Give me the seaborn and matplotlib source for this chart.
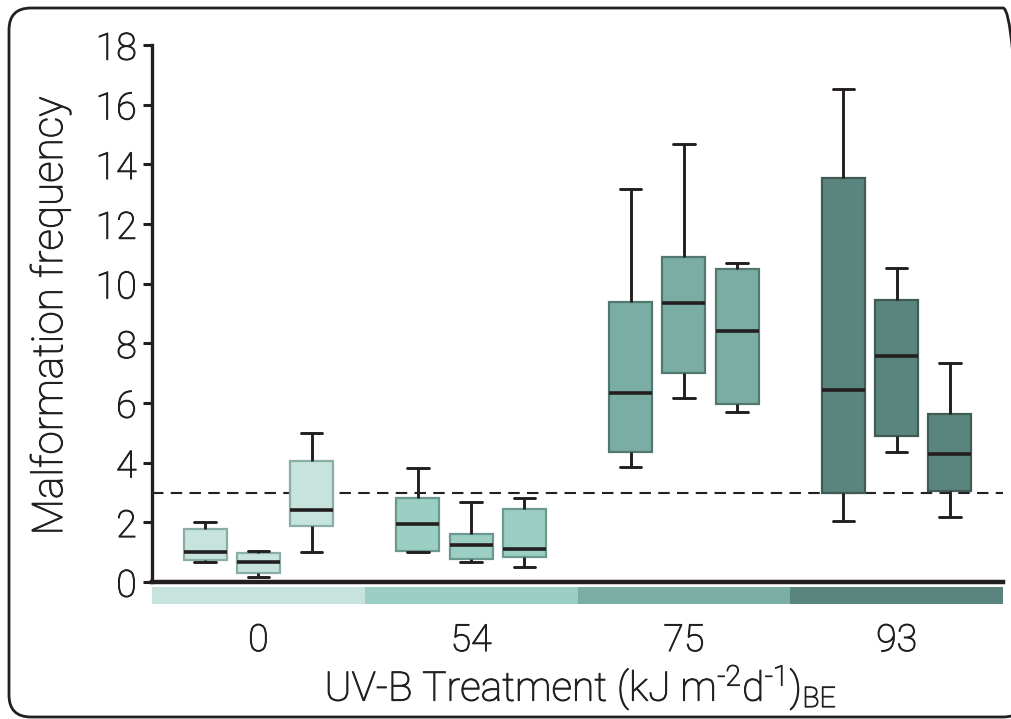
import numpy as np
import pandas as pd
import seaborn as sns
import matplotlib
matplotlib.use("Agg")
import matplotlib.pyplot as plt
import matplotlib.transforms as mtransforms
import matplotlib.patheffects as pe
from matplotlib.patches import FancyBboxPatch, Rectangle

# ---------------- data ----------------
treatments = ["0", "54", "75", "93"]
replicates = ["R1", "R2", "R3"]

# five-number summaries, order: 0-R1, 0-R2, 0-R3, 54-R1, ... 93-R3
whisker_low  = [0.66, 0.18, 1.00, 1.00, 0.67, 0.51, 3.85, 6.18, 5.69, 2.03, 4.37, 2.19]
q1           = [0.74, 0.31, 1.87, 1.04, 0.77, 0.84, 4.35, 7.00, 5.97, 3.00, 4.88, 3.05]
median       = [1.00, 0.67, 2.41, 1.93, 1.25, 1.10, 6.35, 9.35, 8.43, 6.43, 7.59, 4.28]
q3           = [1.78, 0.96, 4.05, 2.82, 1.62, 2.44, 9.40, 10.89, 10.49, 13.55, 9.46, 5.63]
whisker_high = [2.00, 1.03, 4.98, 3.83, 2.68, 2.83, 13.16, 14.67, 10.68, 16.51, 10.51, 7.35]

threshold = 3.0
y_ticks = [0, 2, 4, 6, 8, 10, 12, 14, 16, 18]

fill_colors = ["#c6e3dd", "#9bcfc3", "#7aada4", "#5a857e"]
edge_colors = ["#88aea6", "#6c998f", "#52796f", "#3f5c57"]
ink = "#231f20"

rows = []
i = 0
for t in treatments:
    for r in replicates:
        for v in (whisker_low[i], q1[i], median[i], q3[i], whisker_high[i]):
            rows.append({"treatment": t, "replicate": r, "value": v})
        i += 1
df = pd.DataFrame(rows)

# ---------------- figure ----------------
sns.set_theme(style="white")
fam = ["Roboto", "Liberation Sans", "DejaVu Sans"]
plt.rcParams["font.family"] = fam
plt.rcParams["font.weight"] = "light"
plt.rcParams["mathtext.default"] = "regular"
plt.rcParams["text.color"] = ink

fig = plt.figure(figsize=(10.11, 7.19), dpi=100)
fig.patch.set_facecolor("white")
ax = fig.add_axes([152 / 1011, (719 - 582) / 719, (1003 - 152) / 1011, (582 - 45) / 719])

sns.boxplot(
    data=df, x="treatment", y="value", hue="replicate",
    order=treatments, hue_order=replicates,
    whis=(0, 100), width=0.75, gap=0.19, dodge=True,
    palette=["#cccccc"] * 3, linecolor=ink, linewidth=2.0,
    showfliers=False, legend=False, ax=ax,
    boxprops={"linewidth": 1.6},
    whiskerprops={"linewidth": 2.1, "color": ink},
    capprops={"linewidth": 2.1, "color": ink},
    medianprops={"linewidth": 2.6, "color": ink},
)

# colour boxes by treatment group
for p in ax.patches:
    verts = p.get_path().vertices
    cx = (verts[:, 0].min() + verts[:, 0].max()) / 2
    g = int(round(cx))
    g = max(0, min(3, g))
    p.set_facecolor(fill_colors[g])
    p.set_edgecolor(edge_colors[g])
    p.set_linewidth(1.6)
    p.set_zorder(2)

for ln in ax.lines:
    ln.set_zorder(3)

# dashed threshold line
ax.axhline(threshold, color=ink, lw=1.5, ls=(0, (5.5, 3.5)), zorder=1)

ax.set_xlim(-0.5, 3.5)
ax.set_ylim(0, 18)
ax.set_yticks(y_ticks)
ax.set_yticklabels([str(v) for v in y_ticks])

# colour band under the x axis
trans = mtransforms.blended_transform_factory(ax.transData, ax.transAxes)
for gi, c in enumerate(fill_colors):
    ax.add_patch(Rectangle((gi - 0.5, -0.0415), 1.0, 0.032, transform=trans,
                           facecolor=c, edgecolor="none", clip_on=False, zorder=0))

# spines
for s in ("top", "right"):
    ax.spines[s].set_visible(False)
ax.spines["left"].set_linewidth(2.4)
ax.spines["left"].set_color(ink)
ax.spines["bottom"].set_linewidth(3.2)
ax.spines["bottom"].set_color(ink)
ax.spines["bottom"].set_zorder(4)

ax.tick_params(axis="y", which="both", direction="out", length=6.5, width=2.2,
               color=ink, pad=4.5, labelsize=27, labelcolor=ink, left=True)
ax.tick_params(axis="x", length=0, pad=28.5, labelsize=27, labelcolor=ink)

thick = [pe.withStroke(linewidth=0.7, foreground=ink)]
for lab in ax.get_xticklabels() + ax.get_yticklabels():
    lab.set_fontweight("light")
    lab.set_path_effects(thick)

ax.set_ylabel("Malformation frequency", fontsize=30.5, color=ink, fontweight="light")
ax.yaxis.set_label_coords(-0.095, 0.495)
ax.yaxis.label.set_path_effects(thick)
hy = "\u2010"
ax.set_xlabel("UV-B Treatment (kJ m$^{" + hy + "2}$d$^{" + hy + "1}$)$_{BE}$",
              fontsize=29.3, color=ink, fontweight="light")
ax.xaxis.set_label_coords(0.504, -0.151)
ax.xaxis.label.set_path_effects(thick)
ax.grid(False)

# rounded frame around the whole figure
frame = FancyBboxPatch((9, 2), 1016, 709, boxstyle="round,pad=0,rounding_size=22",
                       transform=None, fill=False, edgecolor=ink, linewidth=2.0)
fig.patches.append(frame)

fig.savefig("out.png", dpi=100, facecolor="white")
